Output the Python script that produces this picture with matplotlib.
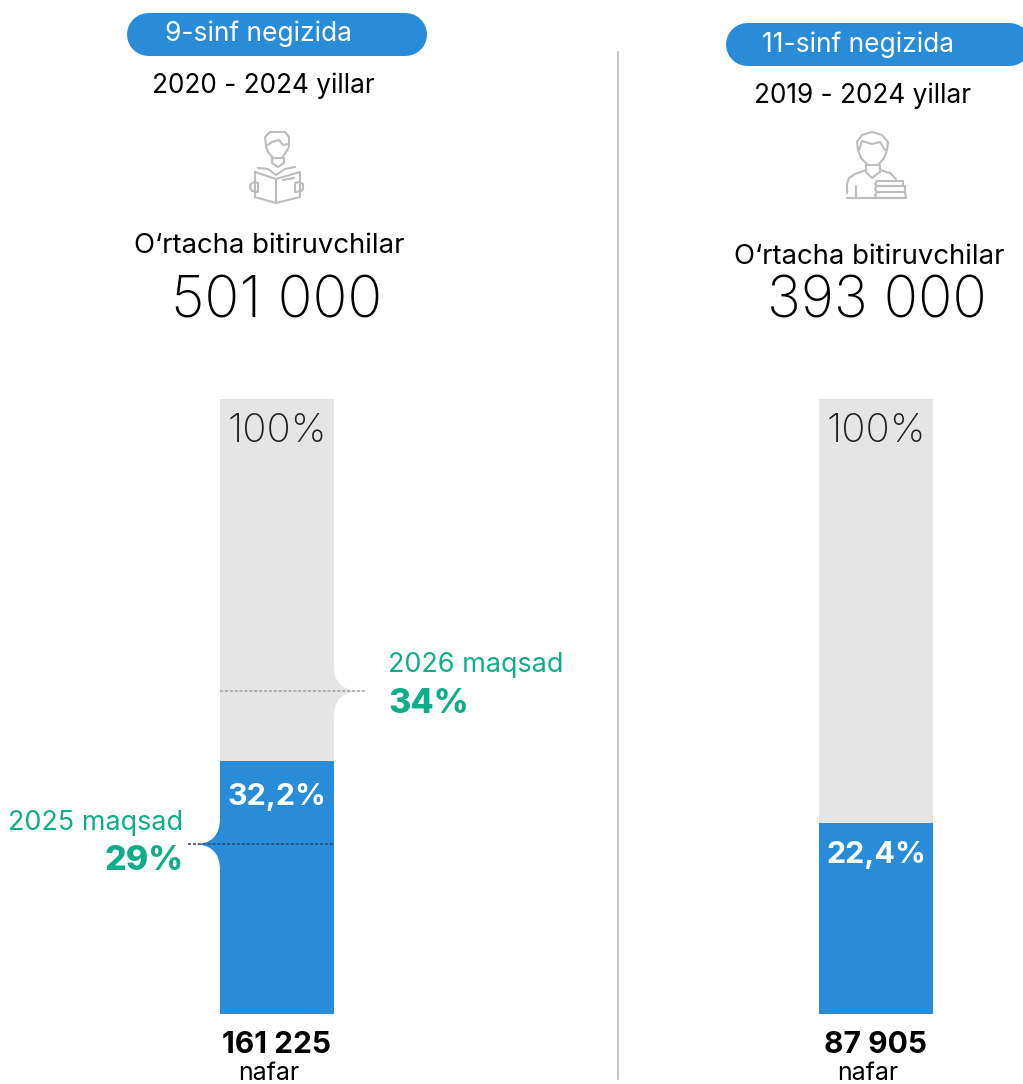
#Two 100% columns with graduate share and targets
import matplotlib
matplotlib.use('Agg')
import matplotlib.pyplot as plt
from matplotlib.patches import PathPatch
from matplotlib.path import Path

#################################################
# Values
#################################################
# column heights on the picture's own scale (drawn height, not the printed label)
column_total = [100, 100]
column_fill = [41.1, 31.1]
fill_labels = ['32,2%', '22,4%']
total_labels = ['100%', '100%']
pill_labels = ['9-sinf negizida', '11-sinf negizida']
period_labels = ['2020 - 2024 yillar', '2019 - 2024 yillar']
avg_title = 'O‘rtacha bitiruvchilar'
avg_values = ['501 000', '393 000']
count_values = ['161 225', '87 905']
count_unit = 'nafar'
target_heights = [27.6, 52.5]
target_titles = ['2025 maqsad', '2026 maqsad']
target_labels = ['29%', '34%']

BLUE = '#288cd9'
GREY = '#e5e5e5'
GREEN = '#0fae8a'
ICON = '#bdbdbd'
FONT = 'Inter'

W, H = 1023, 1084
fig = plt.figure(figsize=(W/100, H/100), dpi=100)

# overlay in pixel coordinates for the text and decorations
bg = fig.add_axes([0, 0, 1, 1], zorder=3)
bg.set_xlim(0, W)
bg.set_ylim(H, 0)
bg.axis('off')

# column axes
ax = fig.add_axes([220/W, 1-1014/H, 713/W, 615/H], zorder=1)
ax.set_xlim(-0.0952, 1.0952)
ax.set_ylim(0, 100)
ax.axis('off')
ax.bar([0, 1], column_total, width=0.1903, color=GREY)
ax.bar([0, 1], column_fill, width=0.1903, color=BLUE)

def txt(x, y, s, size, color='black', weight='normal', ha='center'):
    bg.text(x, y, s, fontsize=size*0.72, color=color, fontweight=weight,
            ha=ha, va='center', family=FONT)

def line(pts, lw=2.1):
    bg.plot([p[0] for p in pts], [p[1] for p in pts], color=ICON, lw=lw*0.72,
            solid_capstyle='round', solid_joinstyle='round')

def spike(x0, xt, yt, up, down, color):
    verts = [(x0, yt-up), (x0, yt), (xt, yt), (x0, yt), (x0, yt+down), (x0, yt-up)]
    codes = [Path.MOVETO, Path.CURVE3, Path.CURVE3, Path.CURVE3, Path.CURVE3, Path.CLOSEPOLY]
    bg.add_patch(PathPatch(Path(verts, codes), fc=color, ec='none'))

# divider
bg.plot([618, 618], [52, 1079], color='#b5b5b5', lw=1.1)

# pills, a thick line with round caps
for (x0, x1, y0, y1) in [(126, 426, 12, 55), (725, 1030, 22, 65)]:
    r = (y1-y0)/2
    bg.plot([x0+r, x1-r], [(y0+y1)/2, (y0+y1)/2], color=BLUE, lw=(y1-y0)*0.72,
            solid_capstyle='round')

# headings
txt(258.5, 34, pill_labels[0], 26.4, 'white')
txt(858.5, 45, pill_labels[1], 26.4, 'white')
txt(263, 86, period_labels[0], 26.2)
txt(862.5, 96, period_labels[1], 26.2)
txt(269, 246, avg_title, 27.5)
txt(869, 257, avg_title, 27.5)
txt(277, 303, avg_values[0], 58, weight='light')
txt(876.5, 303, avg_values[1], 57, weight='light')

# column labels
for i, cx in enumerate([277, 876]):
    txt(cx, 432, total_labels[i], 40, '#222222', 'light')
    txt(cx, 1045, count_values[i], 30, 'black', 'bold')
    txt(cx-8, 1074, count_unit, 25)
txt(277, 797, fill_labels[0], 30.5, 'white', 'bold')
txt(876, 855, fill_labels[1], 30.5, 'white', 'bold')

# target markers, placed from the column scale
y25 = 1014 - target_heights[0]*6.15
y26 = 1014 - target_heights[1]*6.15
spike(220, 194, y25, 26, 26, BLUE)
spike(334, 362, y26, 24, 24, GREY)
bg.plot([188, 334], [y25, y25], color='#2f4a70', lw=1.1, ls=(0, (2, 1.2)))
bg.plot([220, 366], [y26, y26], color='#a8a4a4', lw=1.1, ls=(0, (2, 1.2)))
txt(183, 823, target_titles[0], 27, GREEN, ha='right')
txt(184, 861, target_labels[0], 34, GREEN, 'heavy', ha='right')
txt(388, 665, target_titles[1], 27, GREEN, ha='left')
txt(388, 704, target_labels[1], 34, GREEN, 'heavy', ha='left')

# reader icon
line([(266, 146), (265, 137), (270, 132), (285, 132), (289, 137), (289, 147), (286, 152), (282, 158), (273, 158), (268, 152), (266, 146)])
line([(266, 146), (272, 142), (279, 140), (283, 145), (289, 144)])
line([(272, 158), (272, 163), (278, 167), (284, 163), (284, 158)])
line([(258, 168), (268, 169), (276, 175), (285, 169), (295, 167)])
line([(255, 172), (276, 179), (276, 203), (255, 197), (255, 172)])
line([(276, 179), (300, 172), (300, 197), (276, 203)])
line([(283, 180), (294, 178)])
line([(254, 182), (251, 184), (250, 188), (252, 191), (258, 192), (258, 183), (254, 182)])
line([(299, 182), (303, 184), (303, 189), (301, 191), (295, 192), (295, 183), (299, 182)])

# student with books icon
line([(858, 150), (857, 142), (862, 135), (872, 132), (882, 135), (888, 142), (887, 150), (884, 158), (878, 165), (868, 165), (861, 158), (858, 150)])
line([(859, 150), (862, 141), (872, 144), (880, 142), (885, 150)])
line([(866, 165), (866, 172), (872, 178), (880, 172), (880, 165)])
line([(866, 170), (855, 174), (849, 178), (847, 184), (847, 193)])
line([(880, 170), (890, 173), (896, 179)])
line([(856, 186), (856, 198)])
line([(847, 198), (906, 198)])
line([(877, 181), (903, 181), (903, 186), (877, 186), (875, 184), (877, 181)])
line([(877, 186), (905, 186), (905, 192), (877, 192), (875, 189), (877, 186)])
line([(877, 192), (905, 192), (906, 198), (877, 198), (875, 195), (877, 192)])

fig.savefig('out.png', dpi=100)
